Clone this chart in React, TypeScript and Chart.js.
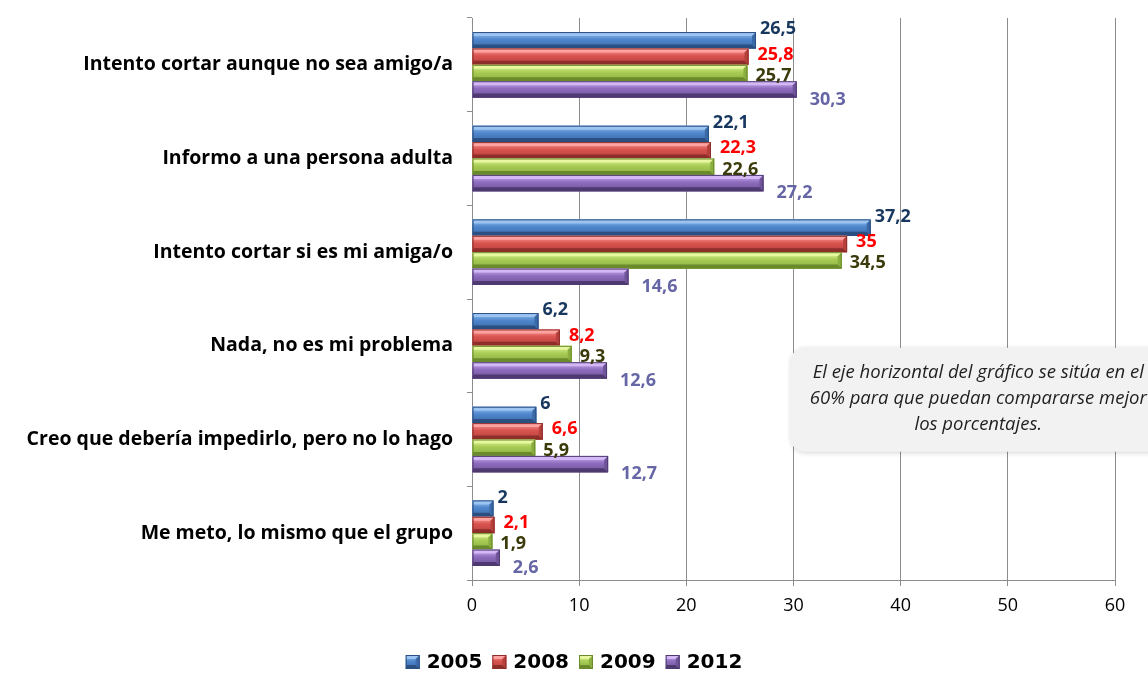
import { useEffect, useRef } from 'react';
import { Chart, registerables } from 'chart.js';

Chart.register(...registerables);

const categories = [
  'Intento cortar aunque no sea amigo/a',
  'Informo a una persona adulta',
  'Intento cortar si es mi amiga/o',
  'Nada, no es mi problema',
  'Creo que debería impedirlo, pero no lo hago',
  'Me meto, lo mismo que el grupo',
];
const years = ['2005', '2008', '2009', '2012'];
const values2005 = [26.5, 22.1, 37.2, 6.2, 6, 2];
const values2008 = [25.8, 22.3, 35, 8.2, 6.6, 2.1];
const values2009 = [25.7, 22.6, 34.5, 9.3, 5.9, 1.9];
const values2012 = [30.3, 27.2, 14.6, 12.6, 12.7, 2.6];
const xMin = 0;
const xMax = 60;
const xStep = 10;
const noteLines = [
  'El eje horizontal del gráfico se sitúa en el',
  '60% para que puedan compararse mejor',
  'los porcentajes.',
];

const palettes = [
  { light: '#9CC4F2', mid: '#4F86CC', dark: '#2A4F80', side: '#3B6AA8', label: '#17375E' },
  { light: '#FFA3A0', mid: '#D9534F', dark: '#8E2E2B', side: '#B5403C', label: '#FF0000' },
  { light: '#E6F7A0', mid: '#A8CC55', dark: '#6A8A2C', side: '#8AAE40', label: '#3A3A0A' },
  { light: '#D4B8F6', mid: '#8E6CBE', dark: '#4E3A70', side: '#6F549A', label: '#6666A6' },
];
const labelOffsets = [
  { dx: 4, dy: -11 },
  { dx: 9, dy: -2 },
  { dx: 8, dy: 3 },
  { dx: 13, dy: 10 },
];

function drawBevelRect(ctx: CanvasRenderingContext2D, left: number, top: number, right: number, bottom: number, p: any, bev: number) {
  const w = right - left;
  const h = bottom - top;
  if (w <= 0 || h <= 0) return;
  const b = Math.min(bev, h / 3, w / 2);
  const face = ctx.createLinearGradient(0, top, 0, bottom);
  face.addColorStop(0, p.light);
  face.addColorStop(0.45, p.mid);
  face.addColorStop(1, p.side);
  ctx.save();
  ctx.fillStyle = face;
  ctx.fillRect(left, top, w, h);
  ctx.beginPath();
  ctx.moveTo(left, top);
  ctx.lineTo(right, top);
  ctx.lineTo(right - b, top + b);
  ctx.lineTo(left + 1, top + b);
  ctx.closePath();
  ctx.fillStyle = p.light;
  ctx.fill();
  ctx.beginPath();
  ctx.moveTo(left, bottom);
  ctx.lineTo(right, bottom);
  ctx.lineTo(right - b, bottom - b);
  ctx.lineTo(left + 1, bottom - b);
  ctx.closePath();
  ctx.fillStyle = p.dark;
  ctx.fill();
  ctx.beginPath();
  ctx.moveTo(right, top);
  ctx.lineTo(right, bottom);
  ctx.lineTo(right - b, bottom - b);
  ctx.lineTo(right - b, top + b);
  ctx.closePath();
  ctx.fillStyle = p.side;
  ctx.fill();
  ctx.strokeStyle = p.dark;
  ctx.lineWidth = 1;
  ctx.strokeRect(left + 0.5, top + 0.5, w - 1, h - 1);
  ctx.restore();
}

const bevelPlugin = {
  id: 'bevelBars',
  afterDatasetsDraw(chart: any) {
    const ctx = chart.ctx;
    chart.data.datasets.forEach((ds: any, di: number) => {
      const meta = chart.getDatasetMeta(di);
      if (meta.hidden) return;
      meta.data.forEach((el: any) => {
        const { x, y, base, height } = el.getProps(['x', 'y', 'base', 'height'], true);
        const left = Math.min(base, x);
        const right = Math.max(base, x);
        drawBevelRect(ctx, left, y - height / 2, right, y + height / 2, palettes[di], 4);
      });
    });
  },
};

const labelsPlugin = {
  id: 'valueLabels',
  afterDatasetsDraw(chart: any) {
    const ctx = chart.ctx;
    ctx.save();
    ctx.font = 'bold 18px "Open Sans"';
    ctx.textAlign = 'left';
    ctx.textBaseline = 'middle';
    chart.data.datasets.forEach((ds: any, di: number) => {
      const meta = chart.getDatasetMeta(di);
      ctx.fillStyle = palettes[di].label;
      meta.data.forEach((el: any, i: number) => {
        const { x, y } = el.getProps(['x', 'y'], true);
        const txt = String(ds.data[i]).replace('.', ',');
        ctx.fillText(txt, x + labelOffsets[di].dx, y + labelOffsets[di].dy);
      });
    });
    ctx.restore();
  },
};

const notePlugin = {
  id: 'noteBox',
  afterDraw(chart: any) {
    const ctx = chart.ctx;
    const xs = chart.scales.x;
    const ys = chart.scales.y;
    const left = xs.getPixelForValue(29.7);
    const top = ys.getPixelForValue(3) + 2;
    const bottom = top + 104;
    ctx.save();
    ctx.shadowColor = 'rgba(0,0,0,0.18)';
    ctx.shadowBlur = 5;
    ctx.shadowOffsetX = 1;
    ctx.shadowOffsetY = 1;
    ctx.beginPath();
    ctx.roundRect(left, top, 420, bottom - top, 14);
    ctx.fillStyle = '#F2F2F2';
    ctx.fill();
    ctx.shadowColor = 'transparent';
    ctx.fillStyle = '#1F1F1F';
    ctx.font = 'italic 18.5px "Open Sans"';
    ctx.textAlign = 'center';
    ctx.textBaseline = 'middle';
    const cx = left + 188;
    noteLines.forEach((line, i) => {
      ctx.fillText(line, cx, top + 25 + i * 26);
    });
    ctx.restore();
  },
};

const legendPlugin = {
  id: 'customLegend',
  afterDraw(chart: any) {
    const ctx = chart.ctx;
    ctx.save();
    ctx.font = 'bold 20px "DejaVu Sans"';
    ctx.textBaseline = 'middle';
    ctx.textAlign = 'left';
    const box = 14;
    const gap = 7;
    const itemGap = 10;
    const widths = years.map((y) => box + gap + ctx.measureText(y).width);
    const total = widths.reduce((a, b) => a + b, 0) + itemGap * (years.length - 1);
    let x = chart.width / 2 - total / 2;
    const cy = chart.height - 11;
    years.forEach((y, i) => {
      drawBevelRect(ctx, x, cy - box / 2, x + box, cy + box / 2, palettes[i], 4);
      ctx.fillStyle = '#000000';
      ctx.fillText(y, x + box + gap, cy + 1);
      x += widths[i] + itemGap;
    });
    ctx.restore();
  },
};

export default function App() {
  const canvasRef = useRef<HTMLCanvasElement | null>(null);

  useEffect(() => {
    const canvas = canvasRef.current;
    if (!canvas) return;
    const seriesValues = [values2005, values2008, values2009, values2012];
    const chart = new Chart(canvas, {
      type: 'bar',
      data: {
        labels: categories,
        datasets: years.map((y, i) => ({
          label: y,
          data: seriesValues[i],
          backgroundColor: palettes[i].mid,
          borderWidth: 0,
          categoryPercentage: 0.7,
          barPercentage: 1.0,
        })),
      },
      options: {
        indexAxis: 'y',
        responsive: false,
        animation: false,
        layout: { padding: { left: 0, right: 33, top: 18, bottom: 53 } },
        plugins: {
          legend: { display: false },
          tooltip: { enabled: false },
        },
        scales: {
          x: {
            min: xMin,
            max: xMax,
            ticks: {
              stepSize: xStep,
              color: '#000000',
              font: { family: '"Open Sans"', size: 18 },
              padding: 9,
            },
            grid: { color: '#8C8C8C', lineWidth: 1, tickLength: 6, drawTicks: true },
            border: { color: '#8C8C8C', width: 1 },
            afterFit: (scale: any) => {
              scale.height = 40;
              scale.paddingLeft = 0;
              scale.paddingRight = 0;
            },
          },
          y: {
            ticks: {
              color: '#000000',
              font: { family: '"Open Sans"', size: 19.5, weight: 'bold' },
              padding: 14,
            },
            grid: { drawOnChartArea: false, color: '#8C8C8C', tickLength: 5, offset: true },
            border: { color: '#8C8C8C', width: 1 },
            afterFit: (scale: any) => {
              scale.width = 472;
              scale.paddingTop = 0;
              scale.paddingBottom = 0;
            },
          },
        },
      },
      plugins: [bevelPlugin, labelsPlugin, notePlugin, legendPlugin],
    });
    return () => chart.destroy();
  }, []);

  return (
    <div style={{ position: 'absolute', left: 0, top: 0, width: 1148, height: 673, background: '#ffffff' }}>
      <canvas ref={canvasRef} width={1148} height={673} />
    </div>
  );
}
